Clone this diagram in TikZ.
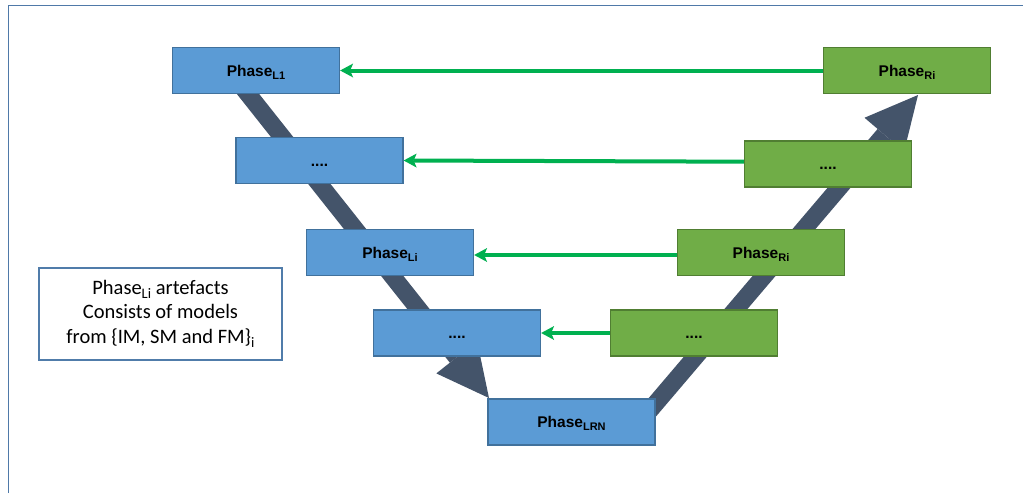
\documentclass[tikz,border=0pt]{standalone}
\usepackage{fontspec}
\setmainfont{Liberation Sans}
\newfontfamily\calibfont{Carlito}
\usetikzlibrary{arrows.meta}
\definecolor{bfill}{RGB}{91,155,213}
\definecolor{bline}{RGB}{65,113,156}
\definecolor{gfill}{RGB}{112,173,71}
\definecolor{gline}{RGB}{80,126,50}
\definecolor{vdark}{RGB}{68,84,106}
\definecolor{garrow}{RGB}{0,176,80}
\definecolor{framecol}{RGB}{79,121,168}
\definecolor{nline}{RGB}{80,124,170}
\newcommand{\phs}[1]{Phase\raisebox{-3pt}{\fontsize{11}{11}\selectfont #1}}
\newcommand{\subsc}[1]{\raisebox{-4.5pt}{\fontsize{14.5}{14.5}\selectfont #1}}
\begin{document}
\begin{tikzpicture}[x=1pt,y=-1pt,
  phbox/.style={minimum width=167pt, minimum height=46pt, inner sep=0pt, line width=1.3pt,
    text height=11pt, text depth=0pt, font=\fontsize{15.5}{18}\selectfont\bfseries},
  bluebox/.style={phbox, fill=bfill, draw=bline},
  greenbox/.style={phbox, fill=gfill, draw=gline},
  bigarrow/.style={draw=vdark, line width=17.5pt, -{Triangle[length=52pt,width=52pt,line width=0pt]}},
  linkarrow/.style={draw=garrow, line width=4pt, -{Stealth[length=13pt,width=14pt,inset=3pt,line width=0pt]}},
  notebox/.style={draw=nline, line width=1.3pt, minimum width=243pt, minimum height=92pt,
    inner sep=0pt, align=center, font=\calibfont\fontsize{20.5}{24.5}\selectfont}
]
\useasboundingbox (0,0) rectangle (1023,493);
\fill[white] (0,0) rectangle (1023,493);
\draw[framecol, line width=1.8pt] (8.5,493) -- (8.5,5.5) -- (1023,5.5);

% big V arrows
\coordinate (vl0) at (229,70);
\coordinate (vl1) at (489,398);
\coordinate (vr0) at (633,430);
\coordinate (vr1) at (918,95);
\draw[bigarrow] (vl0) -- (vl1);
\draw[bigarrow] (vr0) -- (vr1);

% boxes
\node[bluebox] (b1) at (256,70.5) {\phs{L1}};
\node[bluebox] (b2) at (319.5,160.5) {....};
\node[bluebox] (b3) at (390,252.5) {\phs{Li}};
\node[bluebox] (b4) at (457,333) {....};
\node[bluebox] (b5) at (571.5,422) {\phs{LRN}};
\node[greenbox] (g1) at (907,70.5) {\phs{Ri}};
\node[greenbox] (g2) at (828,164) {....};
\node[greenbox] (g3) at (761,252.5) {\phs{Ri}};
\node[greenbox] (g4) at (694,333) {....};

% green arrows
\draw[linkarrow] (g1.west) -- (b1.east);
\draw[linkarrow] ([yshift=2.3pt]g2.west) -- (b2.east);
\draw[linkarrow] ([yshift=-2.5pt]g3.west) -- ([yshift=-2.5pt]b3.east);
\draw[linkarrow] (g4.west) -- (b4.east);

% note
\node[notebox] (note) at (160.5,314) {Phase\subsc{Li} artefacts\\Consists of models\\from \{IM, SM and FM\}\subsc{i}};
\end{tikzpicture}
\end{document}
